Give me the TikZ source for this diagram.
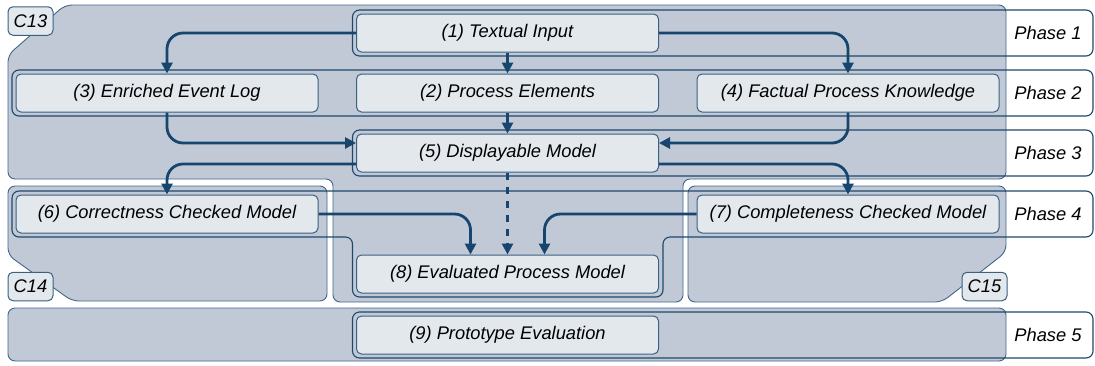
\documentclass[tikz,border=0pt]{standalone}
\usepackage{fontspec}
\setmainfont{Liberation Sans}
\usetikzlibrary{arrows.meta}
\definecolor{clfill}{RGB}{194,201,214}
\definecolor{clline}{RGB}{66,102,138}
\definecolor{ndfill}{RGB}{227,232,237}
\definecolor{ndline}{RGB}{58,96,130}
\definecolor{navy}{RGB}{22,70,110}
\definecolor{bandline}{RGB}{28,72,108}
\begin{document}
\begin{tikzpicture}[x=1pt,y=-1pt,
  cluster/.style={fill=clfill, draw=clline, line width=0.9pt, rounded corners=7pt},
  stage/.style={draw=ndline, fill=ndfill, line width=1pt, rounded corners=5pt,
    minimum width=302pt, minimum height=38pt, inner sep=0pt,
    font=\fontsize{18.3}{22}\selectfont\itshape},
  phaselabel/.style={inner sep=0pt, font=\fontsize{18.3}{22}\selectfont\itshape},
  band/.style={draw=bandline, line width=1.1pt, rounded corners=7pt},
  clabel/.style={draw=ndline, fill=ndfill, line width=1pt, rounded corners=5pt,
    minimum width=45pt, minimum height=28.5pt, inner sep=0pt,
    font=\fontsize{18.3}{22}\selectfont\itshape},
  flow/.style={draw=navy, line width=2.8pt, rounded corners=16pt,
    -{Triangle[length=11pt,width=11pt]}},
  dflow/.style={flow, dash pattern=on 7.5pt off 6.5pt},
]
\useasboundingbox (0,0) rectangle (1095,365);

% clusters
\path[cluster] (500,5) -- (1006,5) -- (1006,179) -- (683,179) -- (683,302)
  -- (333,302) -- (333,179) -- (8,179) -- (8,55) -- (65,5) -- cycle;
\path[cluster] (150,186) -- (327,186) -- (327,301) -- (72,301) -- (8,255)
  -- (8,186) -- cycle;
\path[cluster] (850,186) -- (1006,186) -- (1006,252) -- (942,302) -- (688,302)
  -- (688,186) -- cycle;
\path[cluster] (8,308) rectangle (1006,361);

% stages
\node[stage] (n1) at (507.5,33)  {(1) Textual Input};
\node[stage] (n2) at (507.5,93)  {(2) Process Elements};
\node[stage] (n3) at (167,93)    {(3) Enriched Event Log};
\node[stage] (n4) at (848,93)    {(4) Factual Process Knowledge};
\node[stage] (n5) at (507.5,153) {(5) Displayable Model};
\node[stage] (n6) at (167,214)   {(6) Correctness Checked Model};
\node[stage] (n7) at (848,214)   {(7) Completeness Checked Model};
\node[stage] (n8) at (507.5,274) {(8) Evaluated Process Model};
\node[stage] (n9) at (507.5,335) {(9) Prototype Evaluation};

% phase labels
\node[phaselabel] (p1) at (1048,33)  {Phase 1};
\node[phaselabel] (p2) at (1048,93)  {Phase 2};
\node[phaselabel] (p3) at (1048,153) {Phase 3};
\node[phaselabel] (p4) at (1048,214) {Phase 4};
\node[phaselabel] (p5) at (1048,335) {Phase 5};

% phase bands
\draw[band] (352.5,10) rectangle (1093,56);
\draw[band] (12,70) rectangle (1093,116);
\draw[band] (352.5,130) rectangle (1093,176);
\draw[band] (600,191) -- (1093,191) -- (1093,237) -- (663,237) -- (663,297)
  -- (352.5,297) -- (352.5,237) -- (12,237) -- (12,191) -- cycle;
\draw[band] (352.5,312) rectangle (1093,358);

% cluster labels
\node[clabel] (c13) at (30.5,21)  {C13};
\node[clabel] (c14) at (30.5,286.5) {C14};
\node[clabel] (c15) at (984.5,286.5) {C15};

% connectors
\draw[flow] (n1.west) -| (n3.north);
\draw[flow] (n1.east) -| (n4.north);
\draw[flow] (n1.south) -- (n2.north);
\draw[flow] (n2.south) -- (n5.north);
\draw[flow] (n3.south) |- ([yshift=10pt]n5.west);
\draw[flow] (n4.south) |- ([yshift=10pt]n5.east);
\draw[flow] ([yshift=-11pt]n5.west) -| (n6.north);
\draw[flow] ([yshift=-11pt]n5.east) -| (n7.north);
\draw[dflow] (n5.south) -- (n8.north);
\draw[flow] (n6.east) -| ([xshift=-37pt]n8.north);
\draw[flow] (n7.west) -| ([xshift=37pt]n8.north);
\end{tikzpicture}
\end{document}
